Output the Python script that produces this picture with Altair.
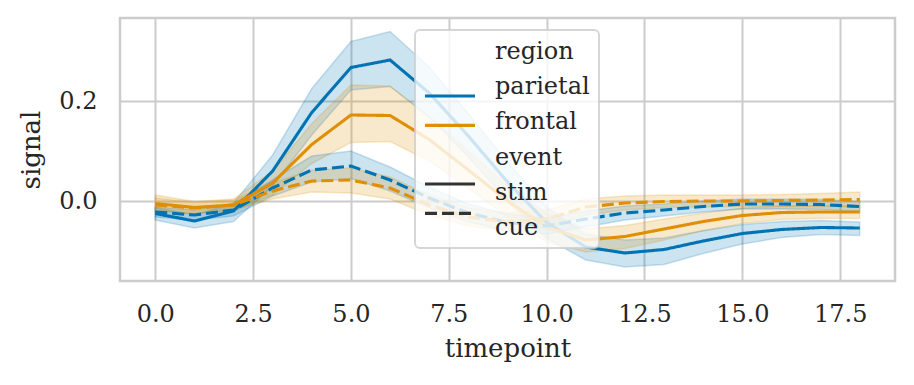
import altair as alt
import pandas as pd

timepoints = list(range(19))

# parietal / stim
ps_mean = [-0.025, -0.040, -0.020, 0.060, 0.177, 0.267, 0.282, 0.216, 0.130, 0.038, -0.043, -0.092, -0.104, -0.097, -0.080, -0.065, -0.057, -0.053, -0.054]
ps_lo = [-0.038, -0.054, -0.041, 0.030, 0.132, 0.222, 0.229, 0.168, 0.088, 0.000, -0.075, -0.118, -0.132, -0.127, -0.105, -0.086, -0.073, -0.067, -0.069]
ps_hi = [-0.013, -0.028, -0.004, 0.092, 0.225, 0.319, 0.339, 0.268, 0.175, 0.078, -0.012, -0.066, -0.078, -0.074, -0.059, -0.047, -0.041, -0.039, -0.042]

# frontal / stim
fs_mean = [-0.005, -0.013, -0.008, 0.036, 0.113, 0.172, 0.171, 0.123, 0.062, 0.000, -0.052, -0.078, -0.071, -0.056, -0.041, -0.029, -0.023, -0.022, -0.022]
fs_lo = [-0.020, -0.025, -0.020, 0.012, 0.075, 0.117, 0.119, 0.080, 0.025, -0.032, -0.082, -0.102, -0.095, -0.078, -0.060, -0.045, -0.037, -0.035, -0.035]
fs_hi = [0.012, -0.001, 0.004, 0.060, 0.155, 0.232, 0.230, 0.168, 0.100, 0.032, -0.025, -0.056, -0.049, -0.036, -0.024, -0.014, -0.010, -0.009, -0.010]

# parietal / cue
pc_mean = [-0.022, -0.028, -0.018, 0.026, 0.062, 0.070, 0.042, 0.006, -0.024, -0.043, -0.050, -0.036, -0.024, -0.018, -0.011, -0.006, -0.006, -0.007, -0.011]
pc_lo = [-0.032, -0.038, -0.030, 0.010, 0.038, 0.045, 0.020, -0.014, -0.042, -0.060, -0.066, -0.052, -0.038, -0.030, -0.022, -0.016, -0.016, -0.017, -0.021]
pc_hi = [-0.012, -0.018, -0.006, 0.042, 0.090, 0.100, 0.068, 0.028, -0.006, -0.026, -0.034, -0.020, -0.010, -0.006, 0.000, 0.004, 0.004, 0.003, -0.001]

# frontal / cue
fc_mean = [-0.008, -0.014, -0.008, 0.020, 0.040, 0.042, 0.026, -0.008, -0.032, -0.042, -0.036, -0.012, -0.004, -0.001, 0.000, 0.000, 0.001, 0.002, 0.003]
fc_lo = [-0.020, -0.025, -0.018, 0.004, 0.018, 0.016, 0.004, -0.028, -0.050, -0.060, -0.054, -0.028, -0.018, -0.013, -0.012, -0.011, -0.011, -0.011, -0.012]
fc_hi = [0.006, -0.003, 0.002, 0.036, 0.062, 0.066, 0.048, 0.012, -0.014, -0.024, -0.018, 0.004, 0.010, 0.012, 0.012, 0.012, 0.013, 0.015, 0.018]

regions = ["parietal", "frontal"]
events = ["stim", "cue"]
legend_labels = ["region", "parietal", "frontal", "event", "stim", "cue"]
x_ticks = [0.0, 2.5, 5.0, 7.5, 10.0, 12.5, 15.0, 17.5]
y_ticks = [0.0, 0.2]

series = [
    ("parietal", "stim", ps_mean, ps_lo, ps_hi),
    ("frontal", "stim", fs_mean, fs_lo, fs_hi),
    ("parietal", "cue", pc_mean, pc_lo, pc_hi),
    ("frontal", "cue", fc_mean, fc_lo, fc_hi),
]
rows = []
for reg, ev, m, lo, hi in series:
    for t, a, b, c in zip(timepoints, m, lo, hi):
        rows.append({"timepoint": t, "region": reg, "event": ev, "signal": a, "lo": b, "hi": c})
df = pd.DataFrame(rows)

FONT = "DejaVu Serif"
TXT = "#262626"
COLORS = ["#0173b2", "#de8f05"]
xs = alt.Scale(domain=[-0.9, 18.9], nice=False, zero=False)
ys = alt.Scale(domain=[-0.16, 0.366], nice=False, zero=False)
cs = alt.Scale(domain=regions, range=COLORS)
ds = alt.Scale(domain=events, range=[[1, 0], [12, 5]])

x_axis = alt.Axis(values=x_ticks, format=".1f", title="timepoint", grid=True,
                  labelPadding=21, titlePadding=9)
y_axis = alt.Axis(values=y_ticks, format=".1f", title="signal", grid=True,
                  labelPadding=23, titlePadding=14)

bands = alt.Chart(df).mark_area(orient="vertical", fillOpacity=0.2, strokeOpacity=0.2, strokeWidth=1.5).encode(
    x=alt.X("timepoint:Q", scale=xs, axis=x_axis),
    y=alt.Y("lo:Q", scale=ys, axis=y_axis),
    y2="hi:Q",
    color=alt.Color("region:N", scale=cs, legend=None),
    stroke=alt.Stroke("region:N", scale=cs, legend=None),
    detail="event:N",
)

lines = alt.Chart(df).mark_line(strokeWidth=3.1).encode(
    x=alt.X("timepoint:Q", scale=xs, axis=x_axis),
    y=alt.Y("signal:Q", scale=ys, axis=None),
    color=alt.Color("region:N", scale=cs, legend=None),
    strokeDash=alt.StrokeDash("event:N", scale=ds, legend=None),
)

# legend box (drawn from its own data, positioned in the plot frame)
box_df = pd.DataFrame({"k": [0]})
legend_box = alt.Chart(box_df).mark_rect(
    fill="white", fillOpacity=0.8, stroke="#cccccc", strokeOpacity=0.8,
    strokeWidth=2, cornerRadius=5
).encode(x=alt.value(295), x2=alt.value(479), y=alt.value(12), y2=alt.value(230))

ly = alt.Scale(domain=legend_labels, range=[34, 210], padding=0)
lab_df = pd.DataFrame({"label": legend_labels})
legend_text = alt.Chart(lab_df).mark_text(
    align="left", baseline="middle", font=FONT, fontSize=24, color=TXT
).encode(x=alt.value(375), y=alt.Y("label:N", scale=ly, axis=None), text="label:N")

reg_df = pd.DataFrame({"label": regions, "region": regions})
legend_reg = alt.Chart(reg_df).mark_rule(strokeWidth=3.1).encode(
    x=alt.value(305), x2=alt.value(355),
    y=alt.Y("label:N", scale=ly, axis=None),
    color=alt.Color("region:N", scale=cs, legend=None),
)
ev_df = pd.DataFrame({"label": events, "event": events})
legend_ev = alt.Chart(ev_df).mark_rule(strokeWidth=3.1, color="#333333").encode(
    x=alt.value(305), x2=alt.value(355),
    y=alt.Y("label:N", scale=ly, axis=None),
    strokeDash=alt.StrokeDash("event:N", scale=ds, legend=None),
)

chart = alt.layer(bands, lines, legend_box, legend_text, legend_reg, legend_ev).resolve_scale(
    y="independent"
).properties(
    width=775, height=263,
    autosize=alt.AutoSizeParams(type="none"),
    padding={"left": 112, "top": 10, "right": 11, "bottom": 96},
).configure_view(
    stroke="#cccccc", strokeWidth=2.5
).configure_axis(
    labelFont=FONT, titleFont=FONT, labelFontSize=24, titleFontSize=26,
    labelColor=TXT, titleColor=TXT, titleFontWeight="normal",
    gridColor="#cccccc", gridWidth=2, domain=False, ticks=False,
)

chart.save("out.html", embed_options={"renderer": "svg", "actions": False})
